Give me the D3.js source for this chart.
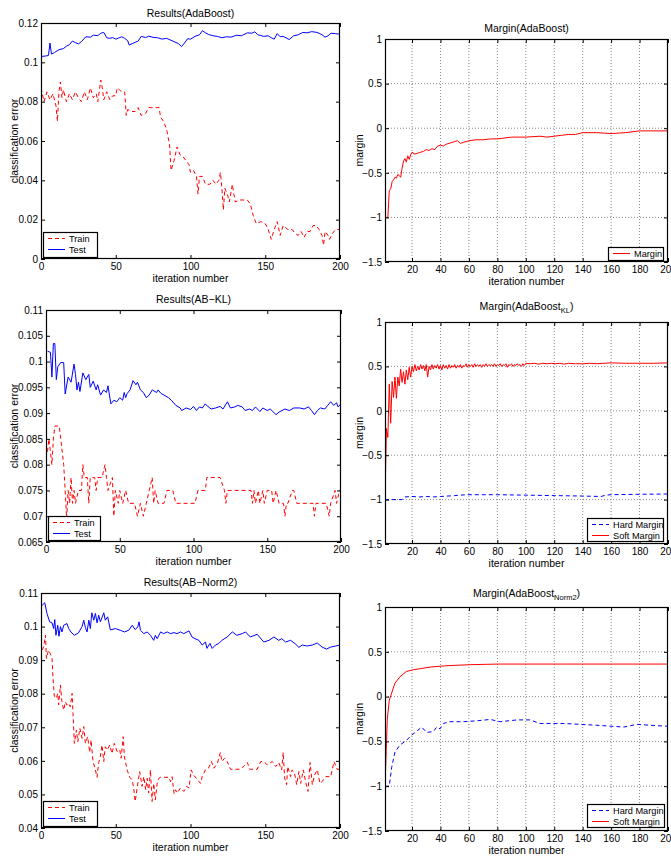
<!DOCTYPE html>
<html>
<head>
<meta charset="utf-8">
<script src="https://cdn.jsdelivr.net/npm/d3@7"></script>
<style>
  body { margin: 0; background: #fff; }
  svg { display: block; font-family: "Liberation Sans", Arial, Helvetica, sans-serif; }
</style>
</head>
<body>
<svg id="fig" width="671" height="857"></svg>
<script>
'use strict';

/* ── tick values ─────────────────────────────────────────────── */
const errXTicks    = [0, 50, 100, 150, 200];
const marginXTicks = [20, 40, 60, 80, 100, 120, 140, 160, 180, 200];
const marginTicks  = [-1.5, -1, -0.5, 0, 0.5, 1];
const adaErrTicks  = [0, 0.02, 0.04, 0.06, 0.08, 0.1, 0.12];
const klErrTicks   = [0.065, 0.07, 0.075, 0.08, 0.085, 0.09, 0.095, 0.1, 0.105, 0.11];
const n2ErrTicks   = [0.04, 0.05, 0.06, 0.07, 0.08, 0.09, 0.1, 0.11];

/* ── Results(AdaBoost) ───────────────────────────────────────── */
const adaTestIter = [0,3,5,6,7,9,12,15,17,19,21,23,25,27,30,33,35,38,40,42,44,46,48,50,52,54,56,58,59,61,63,65,67,70,72,75,78,81,84,87,89,92,94,96,98,100,103,106,108,110,112,115,118,121,124,127,131,134,138,141,143,145,147,149,152,154,156,158,160,162,164,166,169,172,175,178,181,184,186,188,190,192,194,197,200];
const adaTestErr  = [0.103,0.1032,0.1035,0.1098,0.1042,0.105,0.1064,0.107,0.1082,0.109,0.1108,0.11,0.1094,0.1105,0.113,0.1128,0.1138,0.1136,0.1148,0.1152,0.1125,0.1122,0.1126,0.1118,0.1124,0.113,0.1122,0.111,0.1088,0.1095,0.1102,0.1108,0.1132,0.1126,0.1133,0.1127,0.1125,0.1118,0.1122,0.1112,0.1105,0.1095,0.108,0.1098,0.112,0.1118,0.1132,0.114,0.1161,0.115,0.1142,0.1135,0.1132,0.1125,0.113,0.1128,0.1138,0.1135,0.115,0.1148,0.1155,0.114,0.1136,0.1132,0.1135,0.1125,0.1118,0.1146,0.113,0.1132,0.1124,0.1116,0.1135,0.114,0.1152,0.115,0.1156,0.1153,0.1148,0.114,0.1128,0.1135,0.1148,0.1146,0.1143];
const adaTrainIter = [0,2,4,6,8,10,11,12,13,14,15,17,19,21,23,25,27,29,31,33,35,37,38,40,41,42,44,46,48,50,51,54,56,57,58,60,63,65,67,70,72,74,77,79,80,82,84,85,86,87,89,91,93,95,97,99,100,102,104,105,106,108,110,113,115,117,119,120,121,122,123,125,126,128,129,130,133,136,138,140,142,144,147,150,152,154,156,158,160,162,165,168,170,172,174,176,178,180,182,184,186,188,189,190,192,193,195,197,200];
const adaTrainErr  = [0.087,0.08,0.085,0.081,0.084,0.078,0.07,0.085,0.09,0.082,0.086,0.08,0.084,0.081,0.085,0.082,0.08,0.085,0.081,0.087,0.082,0.084,0.08,0.091,0.087,0.081,0.085,0.081,0.083,0.083,0.087,0.085,0.085,0.073,0.076,0.075,0.075,0.077,0.073,0.074,0.077,0.077,0.077,0.077,0.072,0.07,0.066,0.062,0.058,0.045,0.05,0.057,0.053,0.052,0.05,0.048,0.044,0.045,0.042,0.033,0.042,0.042,0.038,0.038,0.04,0.038,0.04,0.044,0.036,0.025,0.036,0.032,0.029,0.038,0.033,0.029,0.03,0.03,0.03,0.028,0.022,0.018,0.019,0.018,0.015,0.01,0.015,0.019,0.012,0.017,0.015,0.015,0.013,0.012,0.014,0.011,0.014,0.014,0.017,0.017,0.015,0.012,0.007,0.014,0.012,0.01,0.013,0.015,0.015];

/* ── Margin(AdaBoost) ────────────────────────────────────────── */
const adaMarginIter = [1,3,4,5,6,7,8,9,10,11,12,13,14,15,16,17,18,19,20,22,24,26,28,30,32,34,36,38,40,42,44,46,48,50,52,54,56,60,65,70,75,80,90,100,110,115,120,125,130,135,140,150,160,170,180,190,200];
const adaMargin     = [-1,-1,-0.7,-0.68,-0.6,-0.58,-0.55,-0.56,-0.52,-0.53,-0.55,-0.45,-0.37,-0.34,-0.38,-0.31,-0.35,-0.3,-0.27,-0.29,-0.28,-0.27,-0.26,-0.24,-0.25,-0.23,-0.24,-0.2,-0.19,-0.2,-0.18,-0.17,-0.16,-0.15,-0.14,-0.17,-0.16,-0.14,-0.13,-0.13,-0.12,-0.12,-0.1,-0.1,-0.09,-0.1,-0.09,-0.08,-0.07,-0.07,-0.05,-0.05,-0.06,-0.05,-0.03,-0.03,-0.03];

/* ── Results(AB-KL) ──────────────────────────────────────────── */
const klTestIter = [1,3,4,5,6,7,8,10,12,13,15,17,19,20,21,22,23,25,27,29,30,32,34,35,37,39,41,42,43,44,46,48,50,52,53,54,55,57,59,61,62,64,66,68,70,72,75,76,78,80,83,85,88,91,92,95,98,100,102,104,106,108,110,112,115,118,120,123,125,128,130,133,135,138,140,142,145,147,150,152,156,158,160,162,165,168,172,175,178,180,182,184,186,189,191,193,195,197,198,200];
const klTestErr  = [0.102,0.1018,0.097,0.1035,0.1035,0.0965,0.099,0.0998,0.0998,0.0937,0.097,0.096,0.0995,0.0975,0.0945,0.096,0.0942,0.0978,0.0965,0.0975,0.095,0.0962,0.0945,0.0955,0.0935,0.0945,0.094,0.0953,0.0935,0.0918,0.0925,0.0922,0.093,0.0925,0.094,0.093,0.0938,0.0945,0.0963,0.0955,0.096,0.0945,0.094,0.093,0.0935,0.0945,0.094,0.0945,0.0938,0.0935,0.093,0.0925,0.0915,0.091,0.0905,0.091,0.0907,0.0913,0.0905,0.0912,0.091,0.0918,0.0912,0.0908,0.091,0.0913,0.0908,0.0922,0.091,0.0912,0.0915,0.0912,0.0905,0.0908,0.0905,0.0912,0.0903,0.091,0.0905,0.0908,0.0897,0.0902,0.0905,0.0908,0.0905,0.091,0.091,0.0908,0.0912,0.0905,0.0897,0.0905,0.091,0.0908,0.0915,0.0922,0.0915,0.092,0.0912,0.0918];
const klTrainIter = [1,2,3,4,5,6,9,10,12,13,14,15,16,17,18,19,20,22,24,25,26,28,29,30,33,34,35,38,40,41,42,45,46,47,49,50,52,54,56,60,62,64,66,68,70,72,73,74,76,80,82,86,88,101,103,108,109,118,121,122,123,139,140,141,142,144,145,147,148,150,153,154,156,158,161,162,163,164,167,168,170,181,182,183,190,192,193,196,197,199,200];
const klTrainErr  = [0.0825,0.085,0.0825,0.08,0.085,0.0875,0.0875,0.085,0.08,0.075,0.0695,0.075,0.0725,0.0775,0.0725,0.075,0.0725,0.075,0.075,0.08,0.0775,0.0775,0.0725,0.0775,0.0775,0.075,0.0775,0.0775,0.08,0.0775,0.075,0.0775,0.07,0.075,0.0725,0.075,0.0725,0.075,0.0725,0.0725,0.07,0.0725,0.07,0.0725,0.075,0.0775,0.0725,0.075,0.0725,0.0725,0.075,0.075,0.0725,0.0725,0.075,0.075,0.0775,0.0775,0.075,0.0725,0.075,0.075,0.0725,0.075,0.0725,0.075,0.0725,0.075,0.0725,0.075,0.075,0.0725,0.075,0.0725,0.0725,0.07,0.0725,0.0725,0.075,0.075,0.0725,0.0725,0.07,0.0725,0.0725,0.07,0.0725,0.075,0.0725,0.075,0.075];

/* ── Margin(AdaBoost_KL) ─────────────────────────────────────── */
const klSoftIter = [1,2,3,4,5,6,7,8,9,10,11,12,13,14,15,16,17,18,19,20,21,22,23,24,25,26,27,28,29,30,31,32,33,34,35,36,37,38,39,40,41,42,43,44,45,46,47,48,49,50,51,52,53,54,55,56,57,58,59,60,61,62,63,64,65,66,67,68,69,70,71,72,73,74,75,76,77,78,79,80,81,82,83,84,85,86,87,88,89,90,91,92,93,94,95,96,97,98,99,100,103,106,109,112,115,118,121,124,127,130,135,140,145,150,155,160,170,180,190,200];
const klSoft     = [-1,-0.2,-0.3,0.3,-0.14,0.33,0.15,0.38,0.14,0.38,0.28,0.47,0.32,0.44,0.3,0.46,0.35,0.49,0.38,0.5,0.44,0.52,0.45,0.5,0.46,0.52,0.47,0.51,0.45,0.52,0.38,0.5,0.46,0.52,0.47,0.51,0.48,0.52,0.47,0.51,0.46,0.52,0.48,0.51,0.47,0.52,0.48,0.51,0.49,0.52,0.48,0.51,0.49,0.52,0.48,0.51,0.5,0.53,0.49,0.52,0.5,0.52,0.49,0.53,0.5,0.52,0.5,0.52,0.49,0.52,0.5,0.53,0.5,0.52,0.51,0.52,0.5,0.53,0.5,0.52,0.51,0.53,0.5,0.52,0.51,0.53,0.49,0.52,0.51,0.53,0.5,0.52,0.51,0.53,0.51,0.52,0.5,0.53,0.51,0.535,0.53,0.535,0.525,0.535,0.53,0.535,0.53,0.535,0.525,0.535,0.53,0.53,0.535,0.53,0.535,0.54,0.535,0.535,0.535,0.54];
const klHardIter = [1,13,15,20,25,30,35,40,50,58,70,80,100,120,140,153,156,160,180,200];
const klHard     = [-1,-1,-0.97,-0.965,-0.97,-0.965,-0.97,-0.965,-0.955,-0.945,-0.945,-0.945,-0.95,-0.955,-0.96,-0.965,-0.95,-0.945,-0.94,-0.937];

/* ── Results(AB-Norm2) ───────────────────────────────────────── */
const n2TestIter = [0.7,2.5,4,5.8,7.4,8.5,9.2,10,11.2,12,13,14,15.2,17.4,18.5,20,22.3,25,27.5,28.6,29.7,30.8,32,33,34,35.3,36.4,37.5,38.6,39.7,42,43,44.6,46.4,49.8,53,55.8,58.7,61,63,64.7,65.6,66.5,68.8,71,73.2,75.4,76.5,77.7,80,82,84.4,86.6,89,91,93.3,95.5,99,101,103,105.6,107.8,110,111,113,114.5,116.7,119,121,124.5,128,131,134.6,136.8,140,144.6,149,152.5,155.8,159,161,163.6,167,170,172.5,174.8,178,181.5,184.8,188,191,193.8,197,200];
const n2TestErr  = [0.1063,0.1071,0.1039,0.1014,0.1011,0.0994,0.1021,0.0974,0.1004,0.0971,0.1,0.0984,0.1004,0.1009,0.0994,0.0984,0.0974,0.0981,0.1,0.1019,0.0997,0.0984,0.1019,0.0994,0.1041,0.1019,0.1039,0.1011,0.1034,0.1014,0.1041,0.1019,0.1029,0.099,0.0994,0.0989,0.0984,0.0989,0.1004,0.0991,0.0999,0.1014,0.0989,0.0979,0.0984,0.0974,0.0959,0.0974,0.0964,0.0984,0.0979,0.0984,0.0979,0.0982,0.0979,0.0984,0.0979,0.0987,0.0969,0.0964,0.0959,0.0945,0.0954,0.0935,0.095,0.0935,0.0945,0.095,0.0959,0.0969,0.0984,0.0974,0.0979,0.0984,0.0969,0.0977,0.0954,0.0959,0.0969,0.0959,0.0964,0.0954,0.0959,0.0949,0.0938,0.0945,0.0942,0.0945,0.0951,0.0939,0.0933,0.0939,0.0942,0.0945];
const n2TrainIter = [0.7,1.8,3,3.6,5,6.2,7.4,8,8.9,10.3,11.2,11.8,13,14,15.2,16.3,17.4,18.5,19.6,20.8,21.4,22.3,23.7,24.6,26,27.5,28.6,29.7,31.2,32.6,33.5,34.8,36.4,37.5,38.6,39.7,40.8,42,43,44.2,46,47.5,49,51,52.7,53.6,55,55.8,57.6,59.4,61,62,63,64.3,66,67.6,68.8,70,71,72,73.2,74.3,75.4,76.5,77.7,78.8,80,83,85.5,86.6,87.7,89,90,91,93.3,95.5,97.3,99,100.4,102,104.5,106.7,107.8,110,112,114,115.6,118,120,121,122.8,124.5,126.8,133.5,138,139.7,144.6,147,149,151.3,154.7,157,159,161,162,163,164.3,165,167,168,169.6,171,172.5,173.7,175.5,177,178.6,180,181.5,183,184.8,186.6,188,190.4,193.8,196,198,200];
const n2TrainErr  = [0.093,0.094,0.0974,0.0905,0.093,0.092,0.0905,0.085,0.0793,0.0786,0.0801,0.0767,0.0826,0.0776,0.0751,0.0776,0.0766,0.0771,0.0761,0.0801,0.0742,0.0652,0.0692,0.0657,0.0697,0.0667,0.0702,0.0652,0.0672,0.0625,0.0662,0.0598,0.0573,0.0551,0.0595,0.0612,0.0647,0.0598,0.0642,0.0632,0.0647,0.0622,0.0652,0.0627,0.0632,0.0608,0.0672,0.0612,0.0573,0.0551,0.0543,0.0519,0.0479,0.0519,0.0568,0.0524,0.0553,0.0514,0.0548,0.0504,0.0573,0.0479,0.0533,0.0484,0.0533,0.0548,0.0551,0.0551,0.0551,0.0538,0.0553,0.0502,0.0514,0.0504,0.0519,0.0509,0.0524,0.0519,0.0573,0.0558,0.0545,0.0533,0.0553,0.0573,0.0578,0.0598,0.0578,0.0593,0.0625,0.0598,0.0608,0.0598,0.0575,0.0575,0.0595,0.0575,0.0575,0.0598,0.0598,0.0588,0.0598,0.0583,0.0595,0.0573,0.0625,0.0548,0.0529,0.0583,0.0553,0.0573,0.0563,0.0529,0.0568,0.0533,0.0573,0.0538,0.0509,0.0595,0.0529,0.0558,0.0573,0.0533,0.0538,0.0553,0.0553,0.0598,0.0575,0.0575];

/* ── Margin(AdaBoost_Norm2) ──────────────────────────────────── */
const n2SoftIter = [1,2.6,4,5.7,8,11.5,16,21,33,44.6,61,80,127,197,200];
const n2Soft     = [-1,-0.26,-0.04,0.04,0.15,0.22,0.28,0.3,0.33,0.345,0.356,0.363,0.363,0.363,0.363];
const n2HardIter = [1,4,5.7,8,11.5,16,19.7,23,26.8,30.3,35,37.4,39.7,42,46.7,56,65.6,75,82,94,103,110,127,150,169,178,198,200];
const n2Hard     = [-1,-1,-0.79,-0.62,-0.54,-0.49,-0.43,-0.39,-0.34,-0.4,-0.39,-0.34,-0.36,-0.3,-0.28,-0.28,-0.27,-0.255,-0.28,-0.26,-0.26,-0.3,-0.3,-0.32,-0.34,-0.31,-0.33,-0.33];

const RED  = '#ff0000';
const BLUE = '#0000ff';
const DASH = '4,3';

const svg = d3.select('#fig');
const errFmt = d => String(+d.toFixed(3));
const marFmt = d => (d < 0 ? '\u2212' + Math.abs(d) : String(d));

function drawPanel(cfg, idx) {
  const x = d3.scaleLinear().domain(cfg.xDomain).range([cfg.left, cfg.right]);
  const y = d3.scaleLinear().domain(cfg.yDomain).range([cfg.bottom, cfg.top]);
  const g = svg.append('g');

  // clip so lines stay inside the box
  const clipId = `clip-${idx}`;
  svg.append('defs').append('clipPath').attr('id', clipId)
    .append('rect')
    .attr('x', cfg.left).attr('y', cfg.top)
    .attr('width', cfg.right - cfg.left).attr('height', cfg.bottom - cfg.top);

  // dotted grid (margin plots only)
  if (cfg.grid) {
    const gg = g.append('g').attr('stroke', '#8a8a8a').attr('stroke-width', 1)
      .attr('stroke-dasharray', '1,2');
    cfg.xTicks.filter(t => x(t) < cfg.right - 1).forEach(t => {
      gg.append('line').attr('x1', x(t)).attr('x2', x(t))
        .attr('y1', cfg.top).attr('y2', cfg.bottom);
    });
    cfg.yTicks.filter(t => y(t) > cfg.top + 1 && y(t) < cfg.bottom - 1).forEach(t => {
      gg.append('line').attr('y1', y(t)).attr('y2', y(t))
        .attr('x1', cfg.left).attr('x2', cfg.right);
    });
  }

  // series
  const lineGen = d3.line().x(d => x(d[0])).y(d => y(d[1]));
  const lines = g.append('g').attr('clip-path', `url(#${clipId})`);
  cfg.series.forEach(s => {
    lines.append('path')
      .attr('d', lineGen(d3.zip(s.iter, s.vals)))
      .attr('fill', 'none')
      .attr('stroke', s.color)
      .attr('stroke-width', 1)
      .attr('stroke-dasharray', s.dashed ? DASH : null);
  });

  // axes, MATLAB style: inward ticks on all four sides
  const styleAxis = sel => {
    sel.attr('font-family', null).attr('font-size', 10);
    sel.select('.domain').remove();
    sel.selectAll('.tick line').attr('stroke', '#000');
    sel.selectAll('.tick text').attr('fill', '#000');
  };
  g.append('g').attr('transform', `translate(0,${cfg.bottom})`)
    .call(d3.axisBottom(x).tickValues(cfg.xTicks).tickSize(-4).tickPadding(4).tickFormat(d3.format('d')))
    .call(styleAxis);
  g.append('g').attr('transform', `translate(0,${cfg.top})`)
    .call(d3.axisTop(x).tickValues(cfg.xTicks).tickSize(-4).tickFormat(''))
    .call(styleAxis);
  g.append('g').attr('transform', `translate(${cfg.left},0)`)
    .call(d3.axisLeft(y).tickValues(cfg.yTicks).tickSize(-4).tickPadding(3).tickFormat(cfg.yFmt))
    .call(styleAxis);
  g.append('g').attr('transform', `translate(${cfg.right},0)`)
    .call(d3.axisRight(y).tickValues(cfg.yTicks).tickSize(-4).tickFormat(''))
    .call(styleAxis);

  g.append('rect')
    .attr('x', cfg.left + 0.5).attr('y', cfg.top + 0.5)
    .attr('width', cfg.right - cfg.left - 1).attr('height', cfg.bottom - cfg.top - 1)
    .attr('fill', 'none').attr('stroke', '#000').attr('stroke-width', 1.2);

  // title, with optional subscript
  const cx = (cfg.left + cfg.right) / 2;
  const title = g.append('text')
    .attr('x', cx).attr('y', cfg.titleY)
    .attr('text-anchor', 'middle').attr('font-size', 10.5)
    .text(cfg.title);
  if (cfg.titleSub) {
    title.append('tspan').attr('dy', 3).attr('font-size', 7.5).text(cfg.titleSub);
    title.append('tspan').attr('dy', -3).text(')');
  }

  g.append('text')
    .attr('x', cx).attr('y', cfg.bottom + 23)
    .attr('text-anchor', 'middle').attr('font-size', 10.5)
    .text('iteration number');

  g.append('text')
    .attr('transform', `translate(${cfg.yLabelX},${(cfg.top + cfg.bottom) / 2}) rotate(-90)`)
    .attr('text-anchor', 'middle').attr('font-size', 10.5)
    .text(cfg.yLabel);

  // legend
  const L = cfg.legend;
  const lg = g.append('g');
  lg.append('rect')
    .attr('x', L.x + 0.5).attr('y', L.y + 0.5).attr('width', L.w).attr('height', L.h)
    .attr('fill', '#fff').attr('stroke', '#000').attr('stroke-width', 1.2);
  L.items.forEach((it, i) => {
    const ry = L.y + 6.5 + i * 11;
    lg.append('line')
      .attr('x1', L.x + 5).attr('x2', L.x + 22).attr('y1', ry).attr('y2', ry)
      .attr('stroke', it.color).attr('stroke-width', 1)
      .attr('stroke-dasharray', it.dashed ? DASH : null);
    lg.append('text')
      .attr('x', L.x + 26).attr('y', ry).attr('dy', '0.35em')
      .attr('font-size', 9.2).text(it.label);
  });
}

const trainLeg = { label: 'Train', color: RED, dashed: true };
const testLeg  = { label: 'Test', color: BLUE, dashed: false };
const hardLeg  = { label: 'Hard Margin', color: BLUE, dashed: true };
const softLeg  = { label: 'Soft Margin', color: RED, dashed: false };

const panels = [
  {
    left: 41, right: 340, top: 23, bottom: 259, xDomain: [0, 200], yDomain: [0, 0.12],
    xTicks: errXTicks, yTicks: adaErrTicks, yFmt: errFmt, grid: false,
    title: 'Results(AdaBoost)', titleY: 16.5, yLabel: 'classification error', yLabelX: 18,
    series: [
      { iter: adaTrainIter, vals: adaTrainErr, color: RED, dashed: true },
      { iter: adaTestIter, vals: adaTestErr, color: BLUE, dashed: false },
    ],
    legend: { x: 43, y: 232, w: 54, h: 25, items: [trainLeg, testLeg] },
  },
  {
    left: 385, right: 668, top: 39, bottom: 262, xDomain: [1, 200], yDomain: [-1.5, 1],
    xTicks: marginXTicks, yTicks: marginTicks, yFmt: marFmt, grid: true,
    title: 'Margin(AdaBoost)', titleY: 32, yLabel: 'margin', yLabelX: 363,
    series: [{ iter: adaMarginIter, vals: adaMargin, color: RED, dashed: false }],
    legend: { x: 608, y: 247, w: 55, h: 13, items: [{ label: 'Margin', color: RED, dashed: false }] },
  },
  {
    left: 46, right: 341, top: 310, bottom: 542, xDomain: [0, 200], yDomain: [0.065, 0.11],
    xTicks: errXTicks, yTicks: klErrTicks, yFmt: errFmt, grid: false,
    title: 'Results(AB\u2212KL)', titleY: 303, yLabel: 'classification error', yLabelX: 18,
    series: [
      { iter: klTrainIter, vals: klTrainErr, color: RED, dashed: true },
      { iter: klTestIter, vals: klTestErr, color: BLUE, dashed: false },
    ],
    legend: { x: 48, y: 516, w: 52, h: 24, items: [trainLeg, testLeg] },
  },
  {
    left: 385, right: 668, top: 322, bottom: 544, xDomain: [1, 200], yDomain: [-1.5, 1],
    xTicks: marginXTicks, yTicks: marginTicks, yFmt: marFmt, grid: true,
    title: 'Margin(AdaBoost', titleSub: 'KL', titleY: 310, yLabel: 'margin', yLabelX: 363,
    series: [
      { iter: klHardIter, vals: klHard, color: BLUE, dashed: true },
      { iter: klSoftIter, vals: klSoft, color: RED, dashed: false },
    ],
    legend: { x: 587, y: 518, w: 76, h: 23, items: [hardLeg, softLeg] },
  },
  {
    left: 41, right: 340, top: 593, bottom: 828, xDomain: [0, 200], yDomain: [0.04, 0.11],
    xTicks: errXTicks, yTicks: n2ErrTicks, yFmt: errFmt, grid: false,
    title: 'Results(AB\u2212Norm2)', titleY: 586, yLabel: 'classification error', yLabelX: 18,
    series: [
      { iter: n2TrainIter, vals: n2TrainErr, color: RED, dashed: true },
      { iter: n2TestIter, vals: n2TestErr, color: BLUE, dashed: false },
    ],
    legend: { x: 43, y: 801, w: 54, h: 25, items: [trainLeg, testLeg] },
  },
  {
    left: 385, right: 668, top: 607, bottom: 831, xDomain: [1, 200], yDomain: [-1.5, 1],
    xTicks: marginXTicks, yTicks: marginTicks, yFmt: marFmt, grid: true,
    title: 'Margin(AdaBoost', titleSub: 'Norm2', titleY: 597, yLabel: 'margin', yLabelX: 363,
    series: [
      { iter: n2HardIter, vals: n2Hard, color: BLUE, dashed: true },
      { iter: n2SoftIter, vals: n2Soft, color: RED, dashed: false },
    ],
    legend: { x: 587, y: 804, w: 77, h: 23, items: [hardLeg, softLeg] },
  },
];

panels.forEach(drawPanel);
</script>
</body>
</html>
